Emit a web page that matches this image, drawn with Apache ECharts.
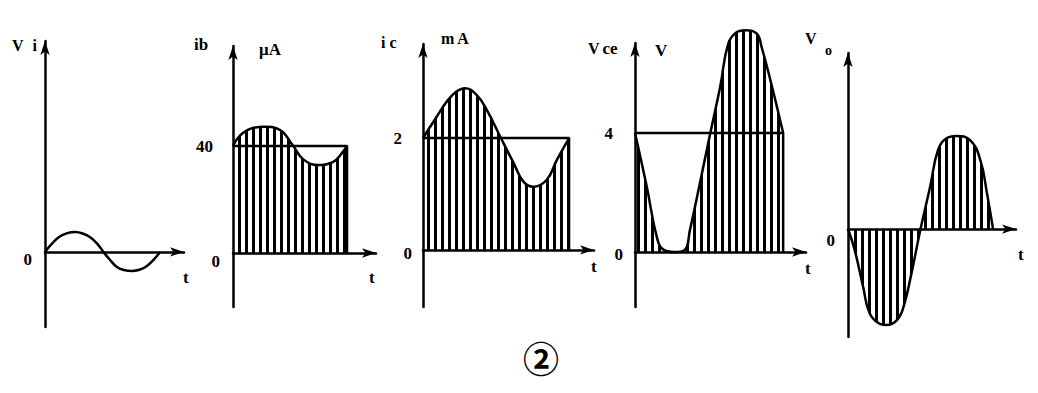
<!DOCTYPE html>
<html><head><meta charset="utf-8">
<script src="https://cdn.jsdelivr.net/npm/echarts@6/dist/echarts.min.js"></script>
<style>html,body{margin:0;padding:0;background:#fff}#c{width:1038px;height:393px}</style>
</head><body><div id="c"></div>
<script>
// time in 1/24 of a period
const periodEnd = 24;
// Vi (input signal, arbitrary units)
const viData = [[0,0],[1.5,4.5],[3,8],[4.5,9.8],[6.3,10.5],[8,9.6],[9.5,7.6],[11,4],[12.2,0],[13.5,-4],[15,-7.9],[16.5,-9.5],[18.1,-10],[19.7,-9.4],[21.2,-7.5],[22.7,-4],[24,0]];
// ib (uA)
const ibData = [[0,40],[1.5,44],[3.9,46.6],[6.7,47.2],[9.9,46],[12.5,40.5],[14.8,35],[18,32.9],[21.1,34.1],[22.9,37.3],[24,40]];
const ibDC = 40;
// ic (mA)
const icData = [[0,2],[2.25,2.38],[3.9,2.65],[5.5,2.83],[6.9,2.89],[8.8,2.77],[10.5,2.5],[12.8,2.0],[14.9,1.55],[16.5,1.22],[18.1,1.13],[20.3,1.25],[22,1.61],[24,2]];
const icDC = 2;
// Vce (V)
const vceData = [[0,4],[1.9,2.2],[3.6,0.45],[4.6,0.08],[6.3,0],[8.0,0.06],[8.9,0.74],[10.5,2.3],[12.2,4],[13.8,5.56],[15.1,7.0],[16.5,7.4],[17.8,7.46],[19.7,7.35],[20.5,6.9],[22.2,5.56],[23.5,4.44],[24,4]];
const vceDC = 4;
// Vo (V)
const voData = [[0,0],[1.1,-0.7],[2.5,-1.94],[3.6,-2.84],[5.3,-3.19],[6.4,-3.23],[8.1,-3.06],[9.2,-2.61],[10.5,-1.49],[12,0],[13.6,1.43],[14.9,2.66],[16.3,3.05],[17.9,3.13],[20.2,2.99],[21.9,2.32],[23,1.2],[24,0]];
// tick labels shown on each y axis
const viTicks = [0];
const ibTicks = [0, 40];
const icTicks = [0, 2];
const vceTicks = [0, 4];
const voTicks = [0];

const FONT = 'Liberation Serif';
const panels = [
  {left:45, top:41, width:139, height:286, xMax:29.0, yMin:-39.6, yMax:111.3, ticks:viTicks, zeroPad:16, zeroMargin:13, otherPad:0},
  {left:233, top:46, width:143, height:261, xMax:30.1, yMin:-20.2, yMax:77.4, ticks:ibTicks, zeroPad:18, zeroMargin:13, otherPad:7},
  {left:423, top:44, width:171, height:263, xMax:28.1, yMin:-1.02, yMax:3.68, ticks:icTicks, zeroPad:8, zeroMargin:11, otherPad:10},
  {left:635, top:43, width:171, height:264, xMax:27.7, yMin:-1.85, yMax:7.03, ticks:vceTicks, zeroPad:4, zeroMargin:12, otherPad:10},
  {left:848, top:53, width:168, height:284, xMax:27.8, yMin:-3.63, yMax:5.92, ticks:voTicks, zeroPad:22, zeroMargin:13, otherPad:0}
];

const axisLine = {show:true, onZero:true, symbol:['none','arrow'], symbolSize:[7,14], lineStyle:{color:'#000', width:2.5}};
const hatch = {symbol:'rect', symbolSize:1, symbolKeepAspect:false, color:'#000', backgroundColor:null, dashArrayX:[3,4], dashArrayY:[10,0], rotation:0};

const grid = [], xAxis = [], yAxis = [], series = [];
panels.forEach((p, i) => {
  grid.push({left:p.left, top:p.top, width:p.width, height:p.height, containLabel:false, outerBoundsMode:'none'});
  xAxis.push({type:'value', gridIndex:i, min:0, max:p.xMax, axisLine:axisLine, axisTick:{show:false}, axisLabel:{show:false}, splitLine:{show:false}});
  yAxis.push({type:'value', gridIndex:i, min:p.yMin, max:p.yMax, axisLine:axisLine, axisTick:{show:false}, splitLine:{show:false},
    axisLabel:{show:true, customValues:p.ticks, margin:p.zeroMargin, color:'#000', fontFamily:FONT, fontWeight:'bold', fontSize:17,
      formatter: v => (v === 0 ? '{z|0}' : '{n|' + v + '}'),
      rich:{z:{padding:[p.zeroPad,0,0,0], fontFamily:FONT, fontWeight:'bold', fontSize:17, color:'#000'},
            n:{padding:[0,p.otherPad,0,0], fontFamily:FONT, fontWeight:'bold', fontSize:17, color:'#000'}}}});
});

function curve(i, data, filled, clip) {
  const s = {type:'line', xAxisIndex:i, yAxisIndex:i, data:data, smooth:0.45, symbol:'none', clip:clip !== false, z:3,
    lineStyle:{color:'#000', width:2.5}};
  if (filled) {
    s.areaStyle = {color:'rgba(255,255,255,0)', opacity:1, origin:'auto'};
    s.lineStyle.decal = hatch;
    s.itemStyle = {color:'#000', decal:hatch};
  }
  return s;
}
function dcBox(i, level) {
  return {type:'line', xAxisIndex:i, yAxisIndex:i, data:[[0,level],[periodEnd,level],[periodEnd,0]], symbol:'none', z:4,
    lineStyle:{color:'#000', width:2.5}};
}
series.push(curve(0, viData, false));
series.push(curve(1, ibData, true)); series.push(dcBox(1, ibDC));
series.push(curve(2, icData, true)); series.push(dcBox(2, icDC));
series.push(curve(3, vceData, true, false)); series.push(dcBox(3, vceDC));
series.push(curve(4, voData, true));

const ts = (size) => ({fontFamily:FONT, fontWeight:'bold', fontSize:size, color:'#000'});
const title = [
  {text:'{a|V}{b|i}', left:12, top:37, padding:0, textStyle:Object.assign(ts(16), {rich:{a:ts(16), b:Object.assign(ts(16), {padding:[0,0,0,9]})}})},
  {text:'ib', left:194, top:36, padding:0, textStyle:ts(17)},
  {text:'μA', left:259, top:41, padding:0, textStyle:ts(17)},
  {text:'{a|i}{b|c}', left:381, top:34, padding:0, textStyle:Object.assign(ts(16), {rich:{a:ts(16), b:Object.assign(ts(16), {padding:[0,0,0,4]})}})},
  {text:'{a|m}{b|A}', left:441, top:30, padding:0, textStyle:Object.assign(ts(16), {rich:{a:ts(16), b:Object.assign(ts(16), {padding:[0,0,0,3]})}})},
  {text:'{a|V}{b|ce}', left:588, top:40, padding:0, textStyle:Object.assign(ts(16), {rich:{a:ts(16), b:Object.assign(ts(17), {padding:[0,0,0,3]})}})},
  {text:'V', left:655, top:42, padding:0, textStyle:ts(17)},
  {text:'V', left:805, top:30, padding:0, textStyle:ts(16)},
  {text:'o', left:825, top:43, padding:0, textStyle:ts(14)},
  {text:'t', left:183, top:269, padding:0, textStyle:ts(17)},
  {text:'t', left:369, top:269, padding:0, textStyle:ts(17)},
  {text:'t', left:591, top:258, padding:0, textStyle:ts(17)},
  {text:'t', left:805, top:260, padding:0, textStyle:ts(17)},
  {text:'t', left:1018, top:246, padding:0, textStyle:ts(17)},
  {text:'②', left:523, top:339, padding:0, textStyle:{fontFamily:'Noto Sans CJK SC', fontSize:36, color:'#000'}}
];

const chart = echarts.init(document.getElementById('c'), null, {renderer:'svg'});
chart.setOption({animation:false, backgroundColor:'#fff', title:title, grid:grid, xAxis:xAxis, yAxis:yAxis, series:series});
</script>
</body></html>
